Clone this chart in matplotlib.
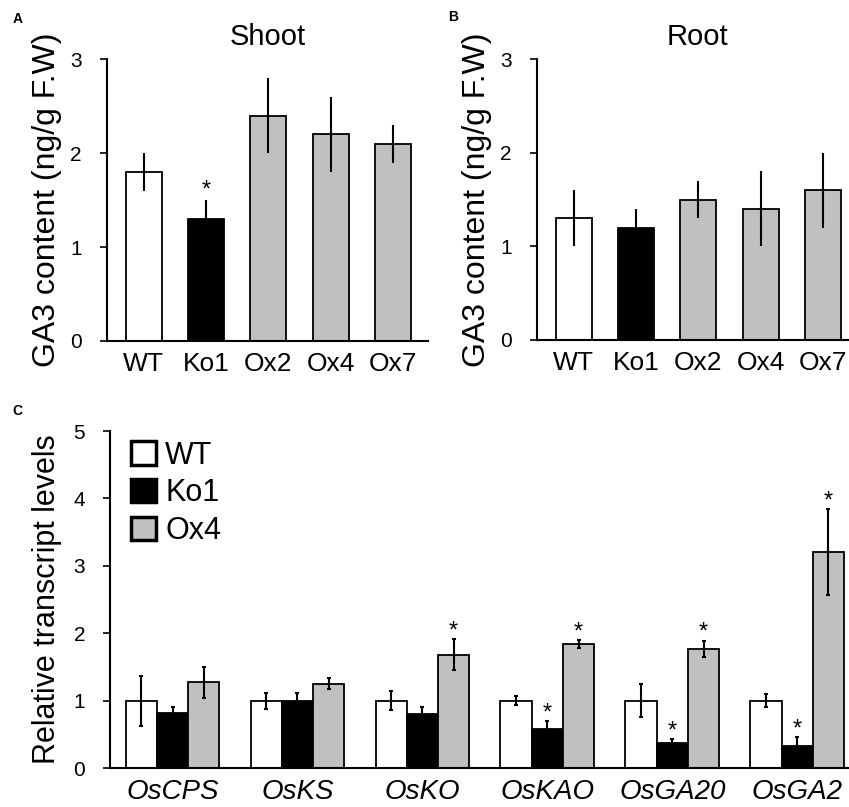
import matplotlib
matplotlib.use('Agg')
from matplotlib import pyplot as plt
import numpy as np

plt.rcParams['font.family'] = ['Liberation Sans', 'DejaVu Sans']

lines = ['WT', 'Ko1', 'Ox2', 'Ox4', 'Ox7']
shoot_val = [1.8, 1.3, 2.4, 2.2, 2.1]
shoot_err = [0.2, 0.2, 0.4, 0.4, 0.2]
root_val = [1.3, 1.2, 1.5, 1.4, 1.6]
root_err = [0.3, 0.2, 0.2, 0.4, 0.4]
shoot_sig = [False, True, False, False, False]

genes = ['OsCPS', 'OsKS', 'OsKO', 'OsKAO', 'OsGA20', 'OsGA2']
wt_val = [1.0, 1.0, 1.0, 1.0, 1.0, 1.0]
wt_err = [0.37, 0.12, 0.14, 0.07, 0.25, 0.1]
ko_val = [0.82, 1.0, 0.8, 0.58, 0.37, 0.33]
ko_err = [0.08, 0.12, 0.1, 0.12, 0.06, 0.13]
ko_sig = [False, False, False, True, True, True]
ox_val = [1.27, 1.25, 1.68, 1.84, 1.77, 3.2]
ox_err = [0.23, 0.08, 0.23, 0.06, 0.12, 0.64]
ox_sig = [False, False, True, True, True, True]

line_colors = ['white', 'black', '#c0c0c0', '#c0c0c0', '#c0c0c0']
gray = '#c0c0c0'

fig = plt.figure(figsize=(8.49, 8.07), dpi=100)


def style_ax(ax):
    for s in ['top', 'right']:
        ax.spines[s].set_visible(False)
    for s in ['left', 'bottom']:
        ax.spines[s].set_linewidth(1.5)
    ax.tick_params(axis='x', length=0, pad=8)
    ax.tick_params(axis='y', length=5, width=1.2, labelsize=15, pad=13)


def ga_panel(rect, vals, errs, sig, title):
    ax = fig.add_axes(rect)
    x = np.arange(len(lines))
    ax.bar(x, vals, width=0.58, color=line_colors, edgecolor='black', linewidth=1.3)
    ax.errorbar(x, vals, yerr=errs, fmt='none', ecolor='black', elinewidth=1.5, capsize=0)
    for xi, v, e, s in zip(x, vals, errs, sig):
        if s:
            ax.text(xi, v + e - 0.02, '*', ha='center', va='bottom', fontsize=17)
    ax.set_xlim(-0.59, 4.56)
    ax.set_ylim(0, 3)
    ax.set_yticks([0, 1, 2, 3])
    ax.set_xticks(x)
    ax.set_xticklabels(lines, fontsize=19)
    ax.set_ylabel('GA3 content (ng/g F.W)', fontsize=23, labelpad=6)
    ax.set_title(title, fontsize=21, pad=10)
    style_ax(ax)
    return ax


ga_panel([0.126, 0.5775, 0.378, 0.349], shoot_val, shoot_err, shoot_sig, 'Shoot')
ga_panel([0.6325, 0.5787, 0.378, 0.348], root_val, root_err, [False] * 5, 'Root')

# panel C
axc = fig.add_axes([0.1296, 0.0483, 0.883, 0.4176])
xg = np.arange(len(genes))
w = 0.25
for off, vals, errs, col, lab, sig in [(-w, wt_val, wt_err, 'white', 'WT', None),
                                       (0, ko_val, ko_err, 'black', 'Ko1', ko_sig),
                                       (w, ox_val, ox_err, gray, 'Ox4', ox_sig)]:
    axc.bar(xg + off, vals, width=w, color=col, edgecolor='black', linewidth=1.3, label=lab)
    axc.errorbar(xg + off, vals, yerr=errs, fmt='none', ecolor='black', elinewidth=1.5,
                 capsize=1.5, capthick=1.5)
    if sig is not None:
        for xi, v, e, s in zip(xg + off, vals, errs, sig):
            if s:
                axc.text(xi, v + e - 0.05, '*', ha='center', va='bottom', fontsize=17)
axc.set_xlim(-0.5, 5.5)
axc.set_ylim(0, 5)
axc.set_yticks([0, 1, 2, 3, 4, 5])
axc.set_xticks(xg)
axc.set_xticklabels(genes, fontsize=20, style='italic')
axc.set_ylabel('Relative transcript levels', fontsize=22, labelpad=8)
style_ax(axc)
leg = axc.legend(loc='upper left', bbox_to_anchor=(0.0, 1.035), frameon=False, fontsize=22,
                 handlelength=0.8, handleheight=0.8, handletextpad=0.3, labelspacing=0.25,
                 borderaxespad=0.2, borderpad=0.5)
for h in leg.legend_handles:
    h.set_linewidth(2.5)

fig.text(0.015, 0.972, 'A', fontsize=10, fontweight='bold')
fig.text(0.528, 0.974, 'B', fontsize=10, fontweight='bold')
fig.text(0.015, 0.486, 'C', fontsize=10, fontweight='bold')

fig.savefig('out.png', dpi=100)
